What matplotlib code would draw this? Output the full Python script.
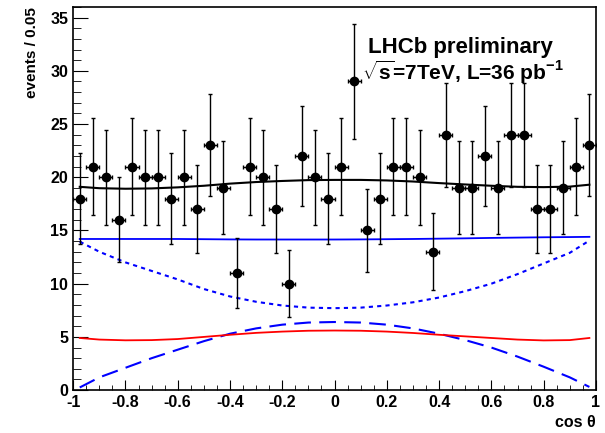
import numpy as np
import matplotlib
matplotlib.use("Agg")
import matplotlib.pyplot as plt
from matplotlib.ticker import MultipleLocator

plt.rcParams['font.family'] = ['Liberation Sans', 'DejaVu Sans']
plt.rcParams['mathtext.fontset'] = 'custom'
plt.rcParams['mathtext.rm'] = 'Liberation Sans'
plt.rcParams['mathtext.bf'] = 'Liberation Sans:bold'

# binned data, 40 bins of width 0.05
bin_centers = np.arange(-0.975, 1.0, 0.05)
counts = [18, 21, 20, 16, 21, 20, 20, 18, 20, 17,
          23, 19, 11, 21, 20, 17, 10, 22, 20, 18,
          21, 29, 15, 18, 21, 21, 20, 13, 24, 19,
          19, 22, 19, 24, 24, 17, 17, 19, 21, 23]

# fit components
curve_x = [-0.975, -0.9, -0.8, -0.7, -0.6, -0.5, -0.4, -0.3, -0.2, -0.1, 0.0,
           0.1, 0.2, 0.3, 0.4, 0.5, 0.6, 0.7, 0.8, 0.9, 0.975]
total_fit = [19.1, 18.97, 18.92, 18.95, 19.05, 19.2, 19.4, 19.55, 19.65, 19.73, 19.75,
             19.75, 19.7, 19.6, 19.45, 19.32, 19.2, 19.1, 19.07, 19.12, 19.3]
signal_flat = [14.2, 14.2, 14.2, 14.2, 14.2, 14.18, 14.16, 14.15, 14.15, 14.15, 14.15,
               14.16, 14.18, 14.2, 14.23, 14.26, 14.3, 14.33, 14.36, 14.38, 14.4]
signal_dotted = [13.95, 13.0, 12.0, 11.2, 10.4, 9.5, 8.8, 8.3, 7.95, 7.75, 7.7,
                 7.75, 7.95, 8.25, 8.7, 9.3, 10.0, 10.9, 11.9, 12.9, 14.05]
signal_dashed = [0.25, 1.2, 2.1, 3.0, 3.8, 4.6, 5.3, 5.8, 6.15, 6.35, 6.4,
                 6.35, 6.15, 5.8, 5.3, 4.7, 4.0, 3.15, 2.2, 1.2, 0.3]
background = [4.9, 4.75, 4.68, 4.7, 4.8, 5.0, 5.2, 5.38, 5.5, 5.58, 5.6,
              5.58, 5.5, 5.37, 5.2, 5.05, 4.9, 4.75, 4.67, 4.7, 4.9]

fig = plt.figure(figsize=(6.05, 4.33), dpi=100)
ax = fig.add_axes([0.121, 0.099, 0.864, 0.885])

ax.plot(curve_x, signal_flat, color='#0000ff', lw=1.3)
ax.plot(curve_x, signal_dotted, color='#0000ff', lw=1.5, linestyle=(0, (2, 2)))
ax.plot(curve_x, signal_dashed, color='#0000ff', lw=1.5, linestyle=(0, (8, 4)))
ax.plot(curve_x, background, color='#ff0000', lw=1.3)
ax.plot(curve_x, total_fit, color='black', lw=1.5)

err = np.sqrt(counts)
ax.errorbar(bin_centers, counts, yerr=err, xerr=0.025, fmt='o', color='black',
            markersize=6, elinewidth=1, capsize=1.5, capthick=1)

ax.set_xlim(-1, 1)
ax.set_ylim(0, 36)
ax.xaxis.set_major_locator(MultipleLocator(0.2))
ax.xaxis.set_minor_locator(MultipleLocator(0.05))
ax.yaxis.set_major_locator(MultipleLocator(5))
ax.yaxis.set_minor_locator(MultipleLocator(1))
ax.tick_params(axis='both', which='both', direction='in', labelsize=11.5)
ax.tick_params(axis='y', which='major', length=11)
ax.tick_params(axis='y', which='minor', length=5.5)
ax.tick_params(axis='x', which='major', length=7.5)
ax.tick_params(axis='x', which='minor', length=3.8)
ax.set_xticks(np.arange(-1, 1.01, 0.2))
ax.set_xticklabels(['-1', '-0.8', '-0.6', '-0.4', '-0.2', '0', '0.2', '0.4', '0.6', '0.8', '1'],
                   fontweight='bold')
for lab in ax.get_yticklabels():
    lab.set_fontweight('bold')
for s in ax.spines.values():
    s.set_linewidth(1.2)

fig.text(0.053, 0.984, 'events / 0.05', rotation=90, ha='center', va='top',
         fontsize=11, fontweight='bold')
fig.text(0.984, 0.025, 'cos θ', ha='right', va='center', fontsize=11.5,
         fontweight='bold')

ax.text(0.740, 0.893, 'LHCb preliminary', transform=ax.transAxes, ha='center',
        va='center', fontsize=16, fontweight='bold')
ax.text(0.745, 0.830, r'$\sqrt{\mathbf{s}}$=7TeV, L=36 pb$^{\mathbf{-1}}$',
        transform=ax.transAxes, ha='center', va='center', fontsize=15,
        fontweight='bold')

fig.savefig('out.png', dpi=100)
